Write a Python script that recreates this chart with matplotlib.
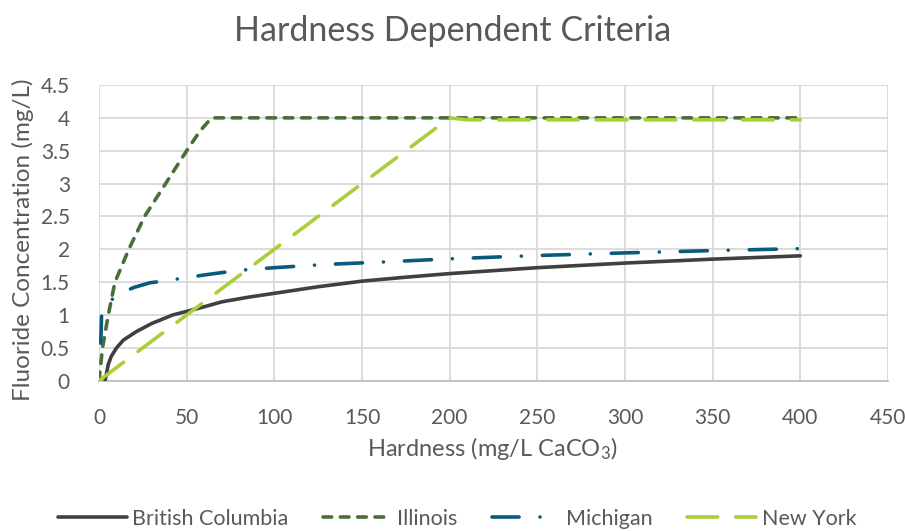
import matplotlib
matplotlib.use("Agg")
import matplotlib.pyplot as plt

plt.rcParams['font.family'] = ['Lato', 'DejaVu Sans']
plt.rcParams['mathtext.fontset'] = 'custom'
plt.rcParams['mathtext.rm'] = 'Lato'

# Data
bc_x = [3.5, 4.5, 5.3, 7, 10, 14, 21.5, 30, 42, 58, 70, 85, 100, 125, 150, 175, 200, 250, 300, 350, 400]
bc_y = [0.0, 0.14, 0.25, 0.37, 0.5, 0.62, 0.75, 0.87, 1.0, 1.11, 1.2, 1.27, 1.33, 1.43, 1.515, 1.575, 1.63, 1.72, 1.79, 1.85, 1.90]

il_x = [0, 2, 5.3, 9.1, 17, 26, 38, 50, 57.6, 64.2, 400]
il_y = [0, 0.5, 1.0, 1.5, 2.0, 2.5, 3.0, 3.5, 3.8, 4.0, 4.0]

mi_x = [1, 1.5, 3, 6, 13, 20, 29, 38, 50, 63, 80, 100, 130, 165, 200, 250, 300, 350, 400]
mi_y = [0.57, 1.03, 1.12, 1.21, 1.34, 1.42, 1.49, 1.52, 1.57, 1.62, 1.68, 1.72, 1.77, 1.81, 1.855, 1.905, 1.945, 1.98, 2.01]

ny_x = [0, 200, 210, 400]
ny_y = [0, 4.0, 3.97, 3.97]

series_names = ["British Columbia", "Illinois", "Michigan", "New York"]
x_ticks = [0, 50, 100, 150, 200, 250, 300, 350, 400, 450]
y_ticks = [0, 0.5, 1, 1.5, 2, 2.5, 3, 3.5, 4, 4.5]

text_col = '#595959'
grid_col = '#d9d9d9'

fig = plt.figure(figsize=(9.05, 5.31), dpi=100)
ax = fig.add_axes([99/905, 1-380.7/531, (888-99)/905, (380.7-85)/531])

lw = 2.6
ax.plot(bc_x, bc_y, color='#404040', lw=lw, solid_capstyle='round', solid_joinstyle='round', label=series_names[0], zorder=3)
ax.plot(il_x, il_y, color='#4a6e38', lw=lw, dashes=(2.4, 2.4), dash_capstyle='round', label=series_names[1], zorder=3)
ax.plot(mi_x, mi_y, color='#0a5a7c', lw=lw, dashes=(7.5, 5.8, 0.01, 5.8), dash_capstyle='round', label=series_names[2], zorder=3)
ax.plot(ny_x, ny_y, color='#a8cf38', lw=lw, dashes=(8.5, 5.0), dash_capstyle='round', label=series_names[3], zorder=3)

ax.set_xlim(0, 450)
ax.set_ylim(0, 4.5)
ax.set_xticks(x_ticks)
ax.set_yticks(y_ticks)
ax.set_xticklabels([str(t) for t in x_ticks])
ax.set_yticklabels([('%g' % t) for t in y_ticks])
ax.grid(True, color=grid_col, lw=1.3, zorder=0)
ax.set_axisbelow(True)
for s in ['top', 'right', 'left']:
    ax.spines[s].set_visible(False)
ax.spines['bottom'].set_color('#bfbfbf')
ax.spines['bottom'].set_linewidth(1.3)
ax.tick_params(axis='both', length=0, labelsize=15, colors=text_col)
ax.tick_params(axis='x', pad=20)
ax.tick_params(axis='y', pad=21)

fig.text(0.5, 1-31/531, "Hardness Dependent Criteria", ha='center', va='center', fontsize=24.5, color=text_col)
fig.text(23/905, 1-240/531, "Fluoride Concentration (mg/L)", ha='center', va='center', rotation=90, fontsize=17.5, color=text_col)
fig.text(492/905, 1-449/531, r"Hardness (mg/L CaCO$\mathregular{_3}$)", ha='center', va='center', fontsize=17, color=text_col)

leg = fig.legend(loc='center', bbox_to_anchor=(457/905, 1-519/531), ncol=4, frameon=False,
                 fontsize=15.5, handlelength=3.2, handletextpad=0.25, columnspacing=1.6, labelcolor=text_col)

fig.savefig("out.png", dpi=100)
